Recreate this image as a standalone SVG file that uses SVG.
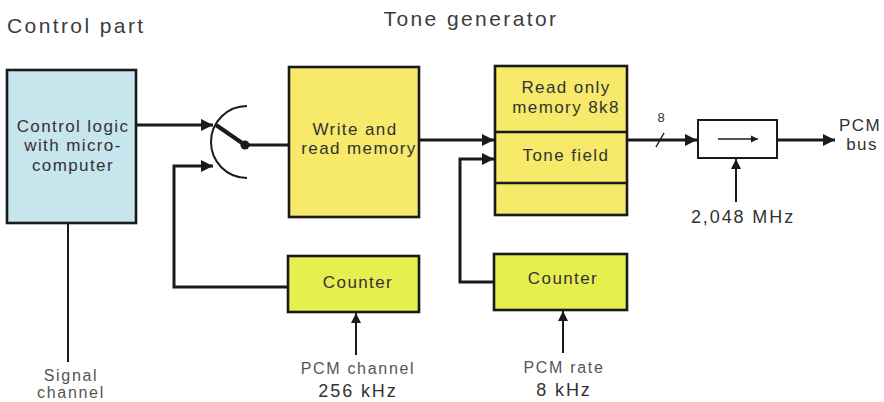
<svg xmlns="http://www.w3.org/2000/svg" width="884" height="402" viewBox="0 0 884 402">
  <defs>
    <marker id="ah" viewBox="0 0 10 10" refX="10" refY="5" markerWidth="4.3" markerHeight="4" orient="auto" markerUnits="strokeWidth">
      <path d="M0,0 L10,5 L0,10 z" fill="#1a1a1a"/>
    </marker>
    <marker id="ahs" viewBox="0 0 10 10" refX="10" refY="5" markerWidth="5" markerHeight="6" orient="auto" markerUnits="strokeWidth">
      <path d="M0,0 L10,5 L0,10 z" fill="#1a1a1a"/>
    </marker>
    <style>
      .t { font-family: "Liberation Sans", Arial, sans-serif; fill: #333; }
      .title { font-size: 21px; letter-spacing: 2.4px; fill: #3c3c3c; }
      .lbl { font-size: 17px; letter-spacing: 1.4px; text-anchor: middle; }
      .sm { font-size: 16px; letter-spacing: 1.7px; text-anchor: middle; fill: #555; }
      .big { font-size: 18px; letter-spacing: 1.9px; text-anchor: middle; }
      .box { stroke: #1a1a1a; stroke-width: 2.6; }
      .blue { fill: #c6e5ed; }
      .yel { fill: #f7e96a; }
      .grn { fill: #e6ef4e; }
      .wire { fill: none; stroke: #1a1a1a; stroke-width: 3; }
      .thin { fill: none; stroke: #1a1a1a; stroke-width: 2; }
    </style>
  </defs>

  <!-- section headings -->
  <text class="t title" x="7" y="33">Control part</text>
  <text class="t title" x="471" y="26" text-anchor="middle">Tone generator</text>

  <g id="control-logic">
    <rect class="box blue" x="7" y="70" width="129" height="153"/>
    <text class="t lbl" x="73" y="132">Control logic</text>
    <text class="t lbl" x="73" y="151">with micro-</text>
    <text class="t lbl" x="73" y="171">computer</text>
  </g>

  <g id="switch">
    <path d="M247,106 A36,36 0 0 0 247,178" fill="none" stroke="#1a1a1a" stroke-width="2"/>
    <line x1="216" y1="125" x2="245" y2="145" stroke="#1a1a1a" stroke-width="4"/>
    <circle cx="245" cy="145" r="4.5" fill="#1a1a1a"/>
  </g>

  <g id="write-read-memory">
    <rect class="box yel" x="289" y="67" width="130" height="150"/>
    <text class="t lbl" x="355" y="135">Write and</text>
    <text class="t lbl" x="359" y="154">read memory</text>
  </g>

  <g id="counter-channel">
    <rect class="box grn" x="288" y="256" width="131" height="56"/>
    <text class="t lbl" x="358" y="288">Counter</text>
  </g>

  <g id="rom">
    <rect class="box yel" x="495" y="66" width="132" height="149"/>
    <line class="box" x1="495" y1="132" x2="627" y2="132"/>
    <line class="box" x1="495" y1="183" x2="627" y2="183"/>
    <text class="t lbl" x="566" y="93">Read only</text>
    <text class="t lbl" x="566" y="113">memory 8k8</text>
    <text class="t lbl" x="566" y="161">Tone field</text>
  </g>

  <g id="counter-rate">
    <rect class="box grn" x="494" y="254" width="133" height="56"/>
    <text class="t lbl" x="563" y="284">Counter</text>
  </g>

  <g id="register">
    <rect x="698" y="120" width="79" height="38" fill="#fff" stroke="#1a1a1a" stroke-width="2"/>
    <line x1="718" y1="139" x2="758" y2="139" stroke="#1a1a1a" stroke-width="1.5" marker-end="url(#ahs)"/>
  </g>

  <g id="connectors">
    <line class="wire" x1="136" y1="125" x2="213" y2="125" marker-end="url(#ah)"/>
    <polyline class="wire" points="287,287 174,287 174,166 213,166" marker-end="url(#ah)"/>
    <line class="wire" x1="249" y1="145" x2="289" y2="145"/>
    <line class="wire" x1="419" y1="140" x2="494" y2="140" marker-end="url(#ah)"/>
    <polyline class="wire" points="494,282 460,282 460,159 494,159" marker-end="url(#ah)"/>
    <line class="wire" x1="627" y1="140" x2="697" y2="140" marker-end="url(#ah)"/>
    <line x1="656" y1="147" x2="664" y2="133" stroke="#1a1a1a" stroke-width="1.5"/>
    <line class="wire" x1="777" y1="140" x2="835" y2="140" marker-end="url(#ah)"/>
    <line class="thin" x1="736" y1="202" x2="736" y2="159" marker-end="url(#ahs)"/>
    <line class="thin" x1="356" y1="355" x2="356" y2="313" marker-end="url(#ahs)"/>
    <line class="thin" x1="563" y1="353" x2="563" y2="311" marker-end="url(#ahs)"/>
    <line class="thin" x1="68" y1="223" x2="68" y2="362"/>
  </g>

  <!-- connector labels -->
  <text class="t" x="661" y="122" font-size="13" text-anchor="middle">8</text>
  <text class="t lbl" x="860" y="131">PCM</text>
  <text class="t lbl" x="862" y="150">bus</text>
  <text class="t big" x="743" y="223">2,048 MHz</text>
  <text class="t sm" x="358" y="374">PCM channel</text>
  <text class="t big" x="358" y="397">256 kHz</text>
  <text class="t sm" x="564" y="373">PCM rate</text>
  <text class="t big" x="564" y="396">8 kHz</text>
  <text class="t sm" x="71" y="381">Signal</text>
  <text class="t sm" x="71" y="398">channel</text>
</svg>
